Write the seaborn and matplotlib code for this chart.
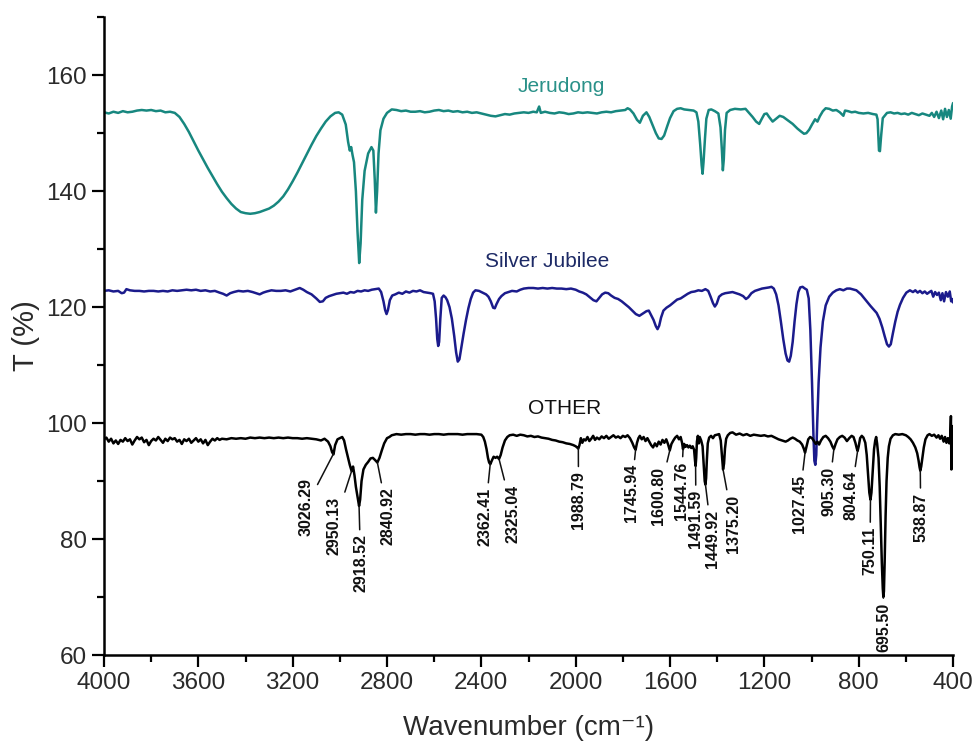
import numpy as np
import pandas as pd
import matplotlib
matplotlib.use("Agg")
import matplotlib.pyplot as plt
from matplotlib.ticker import MultipleLocator
import seaborn as sns

# ---------------- spectra (wavenumber, transmittance) ----------------
jerudong_wn = [
    4000, 3980, 3960, 3940, 3920, 3900, 3880, 3860, 3840, 3820, 3800, 3780, 3760, 3740, 3720, 3700,
    3680, 3660, 3640, 3620, 3600, 3580, 3560, 3540, 3520, 3500, 3480, 3460, 3440, 3420, 3400, 3380,
    3360, 3340, 3320, 3300, 3280, 3260, 3240, 3220, 3200, 3180, 3160, 3140, 3120, 3100, 3080, 3060,
    3040, 3020, 3005, 2990, 2975, 2965, 2958, 2952, 2946, 2940, 2932, 2925, 2918, 2912, 2905, 2895,
    2880, 2866, 2858, 2852, 2847, 2842, 2836, 2828, 2815, 2800, 2780, 2760, 2740, 2720, 2700, 2680,
    2660, 2640, 2620, 2600, 2580, 2560, 2540, 2520, 2500, 2480, 2460, 2440, 2420, 2400, 2380, 2360,
    2340, 2320, 2300, 2280, 2260, 2240, 2220, 2200, 2180, 2165, 2155, 2148, 2130, 2110, 2090, 2070,
    2050, 2030, 2010, 1990, 1970, 1950, 1930, 1910, 1890, 1870, 1850, 1830, 1810, 1790, 1780, 1770,
    1755, 1740, 1728, 1715, 1700, 1688, 1675, 1660, 1648, 1636, 1625, 1612, 1600, 1585, 1570, 1555,
    1540, 1520, 1500, 1488, 1480, 1472, 1466, 1462, 1458, 1452, 1446, 1436, 1425, 1410, 1395, 1386,
    1380, 1376, 1372, 1367, 1360, 1345, 1325, 1300, 1280, 1265, 1250, 1235, 1222, 1212, 1200, 1190,
    1180, 1165, 1150, 1135, 1120, 1100, 1080, 1060, 1045, 1032, 1022, 1010, 998, 985, 975, 965,
    952, 940, 925, 910, 895, 880, 865, 858, 845, 830, 815, 800, 780, 760, 740, 725,
    720, 717, 714, 710, 705, 698, 680, 665, 650, 635, 620, 605, 590, 575, 560, 545,
    530, 515, 500, 490, 480, 470, 460, 450, 442, 434, 426, 418, 410, 404, 400,
]
jerudong_t = [
    153.6, 153.4, 153.7, 153.5, 153.8, 153.6, 153.7, 153.9, 154.0, 153.9, 154.0, 153.8, 153.9, 153.6, 153.7, 153.5,
    152.8, 151.6, 150.2, 148.6, 147.0, 145.5, 144.0, 142.6, 141.2, 139.9, 138.8, 137.8, 137.0, 136.4, 136.2, 136.1,
    136.2, 136.4, 136.7, 137.0, 137.5, 138.2, 139.1, 140.3, 141.7, 143.2, 144.8, 146.4, 148.0, 149.5, 150.8, 152.0,
    152.9, 153.5, 153.6, 153.2, 151.5, 148.5, 147.0, 147.6, 146.2, 145.0, 140.0, 133.0, 127.6, 131.0, 138.5, 143.5,
    146.5, 147.6, 147.0, 142.0, 136.3, 140.0, 146.5, 150.5, 152.5, 153.5, 154.1, 154.0, 153.8, 153.9, 153.7, 153.7,
    153.8, 153.6, 153.7, 153.9, 154.0, 153.8, 153.9, 153.7, 153.8, 153.6, 153.7, 153.5, 153.6, 153.4, 153.2, 153.0,
    152.9, 153.1, 153.3, 153.2, 153.4, 153.5, 153.6, 153.5, 153.7, 153.6, 154.6, 153.5, 153.7, 153.5, 153.4, 153.6,
    153.5, 153.3, 153.4, 153.6, 153.5, 153.6, 153.5, 153.4, 153.6, 153.7, 153.6, 153.8, 153.9, 154.0, 154.3, 154.1,
    153.4, 152.3, 151.8, 153.0, 153.6, 152.8, 151.5, 150.0, 149.1, 149.0, 149.6, 151.2, 152.6, 153.8, 154.2, 154.3,
    154.1, 154.0, 153.9, 153.6, 152.0, 148.0, 144.5, 143.0, 145.0, 149.0, 152.5, 154.0, 154.1, 153.8, 153.4, 151.0,
    147.0, 143.6, 145.5, 150.5, 153.5, 154.0, 154.2, 154.1, 154.2, 153.5, 152.8, 152.0, 151.6, 152.4, 153.3, 153.4,
    152.8, 152.0, 152.5, 153.0, 152.8, 152.2, 151.6, 150.8, 150.3, 149.9, 150.0, 150.6, 151.5, 152.4, 152.0, 152.9,
    153.8, 154.3, 154.2, 153.9, 154.0, 153.6, 153.0, 153.9, 153.8, 153.6, 153.7, 153.5, 153.4, 153.5, 153.3, 153.2,
    152.4, 149.5, 147.0, 146.9, 149.5, 152.6, 153.5, 153.6, 153.4, 153.5, 153.3, 153.4, 153.2, 153.5, 153.3, 153.1,
    153.4, 153.2, 153.0, 153.5, 152.8, 153.7, 152.6, 153.9, 152.4, 154.2, 152.8, 154.0, 152.5, 154.6, 155.2,
]

silver_wn = [
    4000, 3980, 3960, 3940, 3925, 3915, 3905, 3890, 3870, 3850, 3830, 3810, 3790, 3770, 3750, 3730,
    3710, 3690, 3670, 3650, 3630, 3610, 3590, 3570, 3550, 3530, 3510, 3495, 3480, 3465, 3450, 3430,
    3410, 3390, 3370, 3355, 3340, 3325, 3310, 3290, 3270, 3250, 3230, 3210, 3190, 3170, 3155, 3140,
    3120, 3100, 3085, 3072, 3060, 3045, 3030, 3015, 3000, 2985, 2970, 2955, 2940, 2925, 2910, 2895,
    2880, 2865, 2850, 2835, 2825, 2815, 2808, 2802, 2796, 2788, 2778, 2765, 2750, 2735, 2720, 2705,
    2690, 2675, 2660, 2645, 2630, 2615, 2605, 2598, 2592, 2587, 2583, 2579, 2574, 2568, 2560, 2552,
    2545, 2535, 2525, 2515, 2507, 2500, 2493, 2485, 2475, 2465, 2455, 2445, 2435, 2425, 2410, 2395,
    2380, 2370, 2360, 2350, 2343, 2336, 2325, 2315, 2300, 2285, 2270, 2250, 2235, 2220, 2200, 2180,
    2160, 2140, 2120, 2100, 2080, 2060, 2040, 2020, 2000, 1985, 1970, 1955, 1940, 1925, 1912, 1900,
    1888, 1875, 1862, 1850, 1835, 1820, 1805, 1790, 1775, 1760, 1745, 1730, 1715, 1700, 1690, 1680,
    1670, 1660, 1653, 1646, 1638, 1628, 1615, 1600, 1585, 1570, 1555, 1540, 1525, 1510, 1495, 1480,
    1465, 1450, 1438, 1428, 1418, 1410, 1402, 1392, 1380, 1366, 1350, 1335, 1320, 1305, 1290, 1278,
    1268, 1255, 1240, 1225, 1210, 1195, 1180, 1170, 1160, 1150, 1140, 1130, 1120, 1110, 1102, 1095,
    1088, 1080, 1072, 1064, 1056, 1048, 1038, 1028, 1020, 1012, 1005, 998, 992, 988, 984, 980,
    976, 970, 962, 952, 940, 925, 910, 895, 880, 865, 850, 837, 810, 790, 770, 750,
    735, 724, 712, 700, 690, 680, 672, 664, 655, 645, 635, 625, 612, 598, 583, 570,
    560, 550, 540, 530, 520, 510, 500, 492, 484, 476, 468, 460, 452, 445, 438, 430,
    422, 414, 408, 403, 400,
]
silver_t = [
    122.8, 122.9, 122.7, 122.8, 122.4, 122.5, 123.1, 122.9, 122.8, 122.8, 122.7, 122.8, 122.8, 122.7, 122.8, 122.7,
    122.9, 122.8, 122.9, 123.0, 122.9, 123.0, 122.8, 122.9, 122.7, 122.8, 122.5, 122.3, 122.0, 122.4, 122.6, 122.8,
    122.7, 122.8, 122.6, 122.4, 122.2, 122.5, 122.7, 122.9, 122.8, 122.8, 122.9, 122.7, 123.0, 123.3, 123.0, 122.6,
    122.2, 121.5, 120.9, 121.0, 121.6, 121.9, 122.1, 122.3, 122.4, 122.5, 122.3, 122.6, 122.5, 122.8, 122.7, 122.9,
    122.8, 123.0, 123.1, 123.2, 122.6, 121.0, 119.5, 118.8, 119.5, 121.2, 122.0, 122.2, 122.5, 122.3, 122.7, 122.5,
    122.8, 122.7, 122.9, 122.6, 122.5, 122.4, 122.3, 121.0, 118.0, 114.5, 113.3, 114.0, 118.0, 121.6, 122.0, 121.7,
    121.2, 120.0, 118.0, 115.0, 112.2, 110.6, 111.0, 113.0, 115.5, 117.8, 119.8, 121.4, 122.5, 122.9, 122.8, 122.5,
    122.2, 121.8, 121.0, 119.9, 119.8, 120.5, 121.4, 121.9, 122.4, 122.6, 122.8, 122.7, 123.0, 123.2, 123.3, 123.3,
    123.2, 123.3, 123.2, 123.3, 123.2, 123.2, 123.1, 123.2, 123.0, 122.7, 122.5, 122.2, 121.7, 121.2, 121.0, 121.6,
    122.2, 122.5, 122.4, 122.0, 121.6, 121.4, 121.0, 120.5, 120.0, 119.4, 118.8, 118.5, 118.9, 119.3, 119.4, 118.6,
    117.8, 116.7, 116.2, 116.8, 118.2, 119.4, 119.9, 120.3, 120.8, 121.3, 121.5, 121.9, 122.3, 122.6, 122.7, 122.9,
    122.8, 123.1, 122.8, 121.8, 120.7, 120.1, 120.6, 121.8, 122.2, 122.4, 122.5, 122.6, 122.4, 122.2, 121.9, 121.4,
    121.7, 122.4, 122.8, 123.0, 123.2, 123.3, 123.4, 123.5, 123.2, 122.2, 120.3, 117.5, 114.5, 112.0, 110.8, 110.6,
    111.6, 114.0, 117.5, 120.5, 122.6, 123.4, 123.5, 123.2, 123.0, 121.5, 116.0, 107.0, 98.0, 93.5, 92.8, 94.5,
    100.0, 107.0, 113.0, 117.5, 120.3, 121.8, 122.5, 122.9, 123.1, 122.9, 123.2, 123.2, 122.9, 122.2, 121.2, 120.2,
    119.5, 119.0, 118.0, 116.5, 115.0, 113.6, 113.2, 113.6, 115.5, 117.5, 119.2, 120.4, 121.6, 122.5, 122.9, 122.6,
    122.9, 122.5, 122.8, 122.4, 122.7, 122.3, 122.6, 122.8, 121.8, 122.6, 122.1, 122.5, 121.2, 122.4, 121.0, 122.6,
    121.8, 122.7, 121.0, 121.4, 120.8,
]

other_wn = [
    4000, 3990, 3980, 3970, 3960, 3950, 3940, 3930, 3920, 3910, 3900, 3890, 3880, 3870, 3860, 3850,
    3840, 3830, 3820, 3810, 3800, 3790, 3780, 3770, 3760, 3750, 3740, 3730, 3720, 3710, 3700, 3690,
    3680, 3670, 3660, 3650, 3640, 3630, 3620, 3610, 3600, 3590, 3580, 3570, 3560, 3550, 3540, 3530,
    3520, 3510, 3500, 3480, 3460, 3440, 3420, 3400, 3380, 3360, 3340, 3320, 3300, 3280, 3260, 3240,
    3220, 3200, 3180, 3160, 3140, 3120, 3100, 3080, 3065, 3050, 3040, 3033, 3027, 3020, 3010, 3000,
    2990, 2982, 2974, 2965, 2958, 2950, 2944, 2938, 2932, 2926, 2922, 2918.5, 2914, 2908, 2900, 2890,
    2880, 2870, 2860, 2850, 2841, 2832, 2822, 2812, 2800, 2790, 2780, 2760, 2740, 2720, 2700, 2680,
    2660, 2640, 2620, 2600, 2580, 2560, 2540, 2520, 2500, 2480, 2460, 2440, 2420, 2400, 2392, 2385,
    2378, 2372, 2367, 2362, 2356, 2348, 2340, 2333, 2325, 2318, 2310, 2300, 2290, 2280, 2265, 2250,
    2235, 2220, 2205, 2190, 2175, 2160, 2145, 2130, 2115, 2100, 2085, 2070, 2055, 2040, 2025, 2010,
    2000, 1994, 1989, 1984, 1978, 1972, 1965, 1958, 1950, 1942, 1934, 1926, 1918, 1910, 1900, 1890,
    1880, 1870, 1860, 1850, 1840, 1830, 1820, 1810, 1800, 1790, 1780, 1770, 1760, 1752, 1746, 1740,
    1734, 1728, 1720, 1712, 1704, 1696, 1688, 1680, 1672, 1664, 1656, 1648, 1640, 1632, 1624, 1616,
    1608, 1601, 1594, 1586, 1578, 1570, 1562, 1555, 1549, 1545, 1540, 1534, 1528, 1522, 1516, 1510,
    1504, 1498, 1494, 1491.6, 1489, 1486, 1482, 1478, 1474, 1468, 1462, 1457, 1453, 1450, 1447,
    1444, 1440, 1434, 1426, 1418, 1410, 1400, 1392, 1385, 1380, 1375.2, 1371, 1367, 1362, 1355, 1345,
    1335, 1320, 1305, 1290, 1275, 1260, 1245, 1230, 1215, 1200, 1185, 1170, 1155, 1140, 1125, 1110,
    1100, 1090, 1080, 1070, 1060, 1050, 1040, 1033, 1027.5, 1021, 1014, 1006, 998, 990, 982, 975,
    968, 960, 950, 940, 930, 920, 912, 905.3, 898, 890, 880, 870, 860, 850, 840, 830,
    822, 814, 808, 804.6, 800, 794, 787, 780, 772, 766, 760, 755, 750.1, 746, 740, 735,
    730, 726, 722, 716, 711, 706, 702, 698, 695.5, 693, 690, 686, 682, 677, 672, 665,
    655, 645, 630, 615, 600, 590, 580, 570, 560, 552, 546, 542, 538.9, 535, 530, 524,
    517, 508, 500, 490, 480, 470, 462, 455, 448, 440, 434, 428, 422, 416, 412, 409,
    407, 405, 403, 400,
]
other_t = [
    97.2, 97.5, 96.8, 97.3, 96.5, 97.0, 96.4, 97.1, 96.8, 97.4, 96.9, 97.2, 96.3, 97.0, 97.6, 97.2,
    97.5, 96.7, 97.1, 96.2, 96.9, 97.3, 97.0, 97.6, 97.1, 96.6, 97.3, 96.9, 97.5, 97.2, 97.4, 96.8,
    97.1, 96.4, 97.2, 96.9, 97.3, 96.6, 97.0, 97.4, 96.8, 97.2, 96.5, 97.1, 96.2, 96.8, 97.3, 97.0,
    97.4, 97.1, 97.3, 97.2, 97.4, 97.3, 97.4, 97.3, 97.5, 97.4, 97.5, 97.4, 97.5, 97.4, 97.5, 97.4,
    97.5, 97.4, 97.4, 97.3, 97.4, 97.3, 97.2, 97.0, 97.3, 96.8, 96.0, 95.0, 94.6, 96.2, 97.2, 97.4,
    97.6, 97.0, 95.5, 94.0, 92.8, 91.7, 92.5, 91.0, 89.0, 87.5, 86.5, 85.7, 86.8, 90.0, 92.0, 92.8,
    93.3, 93.9, 94.0, 93.6, 93.2, 94.0, 95.3, 96.5, 97.4, 97.6, 97.9, 98.1, 98.0, 98.1, 98.1, 98.0,
    98.1, 98.1, 98.0, 98.1, 98.1, 98.0, 98.1, 98.1, 98.1, 98.0, 98.1, 98.1, 98.1, 98.0, 97.6, 96.8,
    95.5, 94.0, 93.2, 92.9, 93.5, 94.2, 94.0, 94.2, 93.8, 94.5, 95.8, 97.0, 97.6, 97.9, 98.0, 97.8,
    98.0, 97.9, 97.7, 97.8, 97.6, 97.7, 97.5, 97.4, 97.3, 97.1, 97.0, 96.8, 96.7, 96.5, 96.4, 96.2,
    96.0, 95.8, 95.6, 96.2, 97.4, 96.6, 97.2, 97.0, 97.6, 96.9, 97.3, 97.8, 97.1, 97.5, 97.2, 97.7,
    97.4, 97.8, 97.3, 97.6, 97.9, 97.5, 97.7, 97.4, 97.8, 97.6, 97.9, 97.4, 96.6, 95.8, 95.4, 96.6,
    97.4, 97.8, 97.2, 97.6, 96.9, 97.4, 96.8, 96.2, 95.8, 96.5, 96.0, 96.8, 96.3, 97.1, 96.6, 97.2,
    96.3, 95.3, 96.4, 97.0, 97.5, 97.8, 97.2, 97.6, 96.6, 95.5, 96.4, 95.9, 96.2, 95.8, 96.1, 95.7,
    96.0, 95.4, 93.5, 92.6, 94.0, 96.8, 97.8, 96.5, 97.6, 97.0, 96.0, 92.5, 90.0, 89.4, 90.5,
    93.5, 96.5, 97.5, 97.8, 97.4, 97.9, 98.0, 98.1, 97.0, 94.5, 92.0, 93.0, 95.6, 97.3, 97.9, 98.3,
    98.4, 98.0, 98.2, 97.9, 98.1, 97.8, 98.0, 97.9, 97.8, 97.9, 97.7, 97.8, 97.5, 97.2, 97.0, 96.8,
    97.0, 97.3, 97.5, 97.3, 97.0, 96.8, 96.3, 95.6, 94.9, 96.0, 97.2, 97.6, 97.4, 96.9, 96.4, 96.8,
    96.3, 97.0, 97.6, 97.8, 97.4, 96.8, 96.0, 95.5, 96.4, 97.2, 97.6, 97.8, 97.5, 96.9, 97.4, 97.8,
    97.6, 96.6, 95.6, 95.2, 96.0, 97.4, 97.8, 97.5, 96.6, 94.5, 91.0, 88.0, 86.8, 88.0, 92.0, 95.5,
    97.0, 97.6, 96.5, 94.0, 89.0, 82.0, 76.0, 71.5, 70.0, 71.0, 76.0, 84.0, 90.0, 94.0, 96.0, 97.3,
    97.9, 98.1, 98.0, 98.1, 97.9, 97.6, 97.2, 96.6, 95.8, 94.8, 93.5, 92.4, 91.8, 92.5, 94.0, 95.8,
    97.2, 97.9, 98.1, 97.8, 98.0, 97.5, 97.9, 97.3, 97.8, 96.8, 97.6, 96.6, 97.4, 96.5, 97.6, 101.2,
    92.0, 99.5, 96.0, 97.5,
]

# labelled absorption bands of the OTHER sample
peak_labels = ["3026.29", "2950.13", "2918.52", "2840.92", "2362.41", "2325.04", "1988.79",
               "1745.94", "1600.80", "1544.76", "1491.59", "1449.92", "1375.20", "1027.45",
               "905.30", "804.64", "750.11", "695.50", "538.87"]

series_names = ["Jerudong", "Silver Jubilee", "OTHER"]

# ---------------- layout ----------------
# (x, y) of the top end of each rotated peak label
label_anchor = [(3143, 90.6), (3025, 87.3), (2912, 80.8), (2796, 88.9), (2385, 88.9),
                (2266, 89.4), (1988, 91.7), (1765, 92.9), (1647, 92.5), (1553, 93.4),
                (1490, 88.5), (1422, 85.1), (1333, 87.7), (1053, 91.1), (926, 92.5),
                (833, 91.7), (752, 82.1), (693, 69.0), (537, 88.0)]
name_pos = [(2062, 158.1), (2122, 127.8), (2045, 102.6)]

line_colors = ["#17877f", "#1b1b8c", "#000000"]
name_colors = ["#2a9189", "#1d2a66", "#111111"]

FONT = ["Liberation Sans", "DejaVu Sans"]

sns.set_theme(style="ticks")
plt.rcParams["font.family"] = FONT

fig = plt.figure(figsize=(9.72, 7.49), dpi=100)
ax = fig.add_axes([0.107, 0.1255, 0.8735, 0.8515])

frames = [
    pd.DataFrame({"wn": jerudong_wn, "T": jerudong_t}),
    pd.DataFrame({"wn": silver_wn, "T": silver_t}),
    pd.DataFrame({"wn": other_wn, "T": other_t}),
]
for df, col in zip(frames, line_colors):
    sns.lineplot(data=df, x="wn", y="T", color=col, linewidth=1.8, ax=ax,
                 estimator=None, sort=False)

# series names
for name, (px, py), col in zip(series_names, name_pos, name_colors):
    ax.text(px, py, name, color=col, fontsize=15, ha="center", va="center")

# peak annotations with leader lines
for lab, (tx, ty) in zip(peak_labels, label_anchor):
    wn = float(lab)
    yy = np.interp(wn, other_wn[::-1], other_t[::-1])
    ax.annotate(lab, xy=(wn, yy), xytext=(tx, ty), textcoords="data",
                rotation=90, ha="center", va="top", fontsize=11.5,
                fontweight="bold", color="#111111",
                arrowprops=dict(arrowstyle="-", color="#111111", lw=1.1,
                                shrinkA=1, shrinkB=0))

ax.set_xlim(4000, 400)
ax.set_ylim(60, 170)
ax.xaxis.set_major_locator(MultipleLocator(400))
ax.xaxis.set_minor_locator(MultipleLocator(200))
ax.yaxis.set_major_locator(MultipleLocator(20))
ax.yaxis.set_minor_locator(MultipleLocator(10))
ax.set_yticks([60, 80, 100, 120, 140, 160])

sns.despine(ax=ax)
for sp in ("left", "bottom"):
    ax.spines[sp].set_linewidth(1.8)
    ax.spines[sp].set_color("black")

ax.tick_params(axis="both", which="major", direction="out", length=8.5, width=1.6,
               labelsize=17.5, labelcolor="#2a2a2a", color="black", pad=4)
ax.tick_params(axis="both", which="minor", direction="out", length=5, width=1.6,
               color="black")

ax.set_xlabel("Wavenumber (cm\u207b\u00b9)", fontsize=20, color="#2a2a2a", labelpad=15)
ax.set_ylabel("T (%)", fontsize=21, color="#2a2a2a", labelpad=4)
ax.grid(False)

fig.savefig("out.png", dpi=100)
